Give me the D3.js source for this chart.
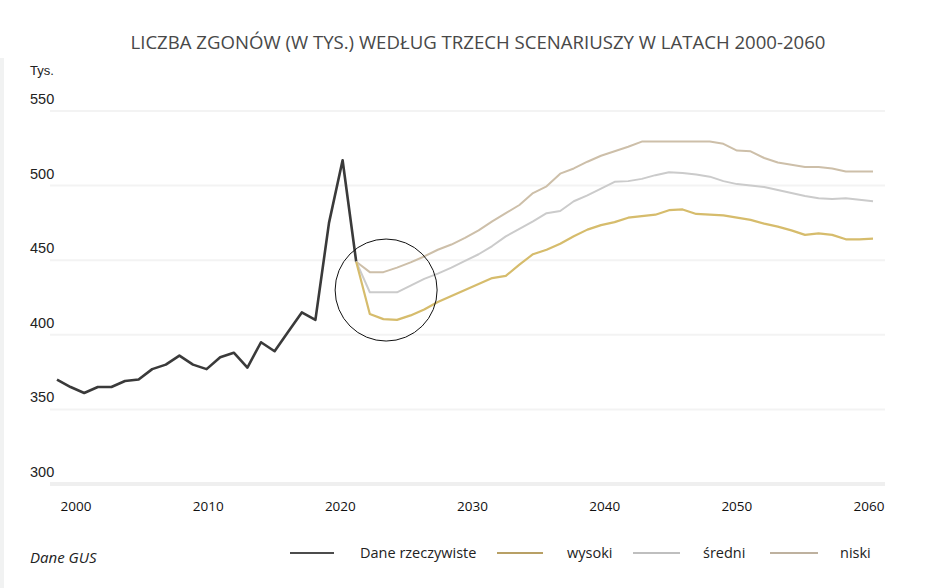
<!DOCTYPE html>
<html lang="pl">
<head>
<meta charset="utf-8">
<title>Liczba zgonów według trzech scenariuszy</title>
<script src="https://cdn.jsdelivr.net/npm/d3@7"></script>
<style>
  body { margin: 0; background: #fff; }
  svg { display: block; }
</style>
</head>
<body>
<script>
// Dane rzeczywiste (tys.)
var yearsActual = d3.range(2000, 2023);
var actual = [370, 365, 361, 365, 365, 369, 370, 377, 380, 386, 380, 377, 385, 388, 378, 395, 389, 402, 415, 410, 475, 517, 449];

// Scenariusze 2022-2060 (tys.)
var yearsProj = d3.range(2022, 2061);
var wysoki = [449, 414, 410.5, 410, 413, 417, 422, 426, 430, 434, 438, 439.5, 447, 454, 457, 461, 466, 470.5, 473.5, 475.5, 478.5, 479.5, 480.5, 483.5, 484, 481, 480.5, 480, 478.5, 477, 474.5, 472.5, 470, 467, 468, 467, 464, 464, 464.5];
var sredni = [449, 428.5, 428.5, 428.5, 433, 437.5, 441, 445, 449.5, 454, 459.5, 466, 471, 476, 481.5, 483, 489.5, 493.5, 498, 502.5, 503, 504.5, 507, 509, 508.5, 507.5, 506, 503, 501, 500, 499, 497, 495, 493, 491.5, 491, 491.5, 490.5, 489.5];
var niski = [449, 442, 442, 445, 448.5, 452.5, 457, 460.5, 465, 470, 476, 481.5, 487, 495, 499.5, 508, 511.5, 516, 520, 523, 526, 529.5, 529.5, 529.5, 529.5, 529.5, 529.5, 528, 523.5, 523, 518.5, 515.5, 514, 512.5, 512.5, 511.5, 509.5, 509.5, 509.5];

var yTicks = [300, 350, 400, 450, 500, 550];
var xTicks = [2000, 2010, 2020, 2030, 2040, 2050, 2060];

var w = 935, h = 588;

var svg = d3.select("body").append("svg")
    .attr("width", w)
    .attr("height", h);

var x = d3.scaleLinear().domain([2000, 2060]).range([57, 873]);
// tick labels sit on their own evenly spaced band under the plot
var xLab = d3.scaleLinear().domain([2000, 2060]).range([76, 869]);
var y = d3.scaleLinear().domain([300, 550]).range([484, 111]);

// thin grey strip on the left edge
svg.append("rect")
   .attr("x", 0).attr("y", 58)
   .attr("width", 4).attr("height", h - 58)
   .attr("fill", "#f1f2f2");

// title
svg.append("text")
   .attr("x", 478).attr("y", 49)
   .attr("text-anchor", "middle")
   .attr("font-family", "'Open Sans', sans-serif")
   .attr("font-size", "18.6px")
   .attr("fill", "#484848")
   .text("LICZBA ZGONÓW (W TYS.) WEDŁUG TRZECH SCENARIUSZY W LATACH 2000-2060");

svg.append("text")
   .attr("x", 30).attr("y", 75)
   .attr("font-family", "'Liberation Sans', Arial, sans-serif")
   .attr("font-size", "13px")
   .attr("fill", "#222")
   .text("Tys.");

// gridlines
svg.selectAll("line.grid")
   .data(yTicks)
   .enter()
   .append("line")
   .attr("class", "grid")
   .attr("x1", 50).attr("x2", 885)
   .attr("y1", function(d) { return y(d); })
   .attr("y2", function(d) { return y(d); })
   .attr("stroke", function(d) { return d === 300 ? "#efefef" : "#f3f3f3"; })
   .attr("stroke-width", function(d) { return d === 300 ? 4 : 2; });

// y labels
svg.selectAll("text.ylab")
   .data(yTicks)
   .enter()
   .append("text")
   .attr("class", "ylab")
   .attr("x", 30)
   .attr("y", function(d) { return y(d) - 7; })
   .attr("font-family", "'Liberation Sans', Arial, sans-serif")
   .attr("font-size", "14.5px")
   .attr("fill", "#222")
   .text(function(d) { return d; });

// x labels
svg.selectAll("text.xlab")
   .data(xTicks)
   .enter()
   .append("text")
   .attr("class", "xlab")
   .attr("x", function(d) { return xLab(d); })
   .attr("y", 511)
   .attr("text-anchor", "middle")
   .attr("font-family", "'Open Sans', sans-serif")
   .attr("font-size", "13.5px")
   .attr("fill", "#111")
   .text(function(d) { return d; });

var line = d3.line()
    .x(function(d) { return x(d[0]); })
    .y(function(d) { return y(d[1]); });

function pairs(years, vals) {
  return years.map(function(yr, i) { return [yr, vals[i]]; });
}

var series = [
  { name: "Dane rzeczywiste", pts: pairs(yearsActual, actual), color: "#3a3a3a", width: 2.6 },
  { name: "niski", pts: pairs(yearsProj, niski), color: "#cdbfa9", width: 2 },
  { name: "średni", pts: pairs(yearsProj, sredni), color: "#cbcbcb", width: 2 },
  { name: "wysoki", pts: pairs(yearsProj, wysoki), color: "#d6bc6c", width: 2.2 }
];

svg.selectAll("path.series")
   .data(series)
   .enter()
   .append("path")
   .attr("class", "series")
   .attr("d", function(d) { return line(d.pts); })
   .attr("fill", "none")
   .attr("stroke", function(d) { return d.color; })
   .attr("stroke-width", function(d) { return d.width; })
   .attr("stroke-linejoin", "round");

// annotation circle round the post-pandemic drop
svg.append("circle")
   .attr("cx", x(2024.2))
   .attr("cy", y(430))
   .attr("r", 51)
   .attr("fill", "none")
   .attr("stroke", "#111")
   .attr("stroke-width", 1);

// source
svg.append("text")
   .attr("x", 30).attr("y", 563)
   .attr("font-family", "'Open Sans', sans-serif")
   .attr("font-style", "italic")
   .attr("font-size", "15px")
   .attr("fill", "#222")
   .text("Dane GUS");

// legend
var legendItems = [
  { label: "Dane rzeczywiste", color: "#111", x1: 290, x2: 334, tx: 360 },
  { label: "wysoki", color: "#a08032", x1: 497, x2: 543, tx: 567 },
  { label: "średni", color: "#aaaaaa", x1: 633, x2: 680, tx: 703 },
  { label: "niski", color: "#a8977f", x1: 770, x2: 818, tx: 840 }
];

var lg = svg.selectAll("g.legend")
   .data(legendItems)
   .enter()
   .append("g")
   .attr("class", "legend");

lg.append("line")
  .attr("x1", function(d) { return d.x1; })
  .attr("x2", function(d) { return d.x2; })
  .attr("y1", 553).attr("y2", 553)
  .attr("stroke", function(d) { return d.color; })
  .attr("stroke-width", 1.3);

lg.append("text")
  .attr("x", function(d) { return d.tx; })
  .attr("y", 558)
  .attr("font-family", "'Open Sans', sans-serif")
  .attr("font-size", "14.5px")
  .attr("fill", "#222")
  .text(function(d) { return d.label; });
</script>
</body>
</html>
